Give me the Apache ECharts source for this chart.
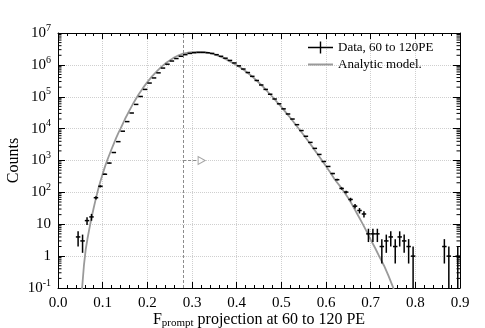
<!DOCTYPE html>
<html>
<head>
<meta charset="utf-8">
<script src="https://cdn.jsdelivr.net/npm/echarts@6/dist/echarts.min.js"></script>
<style>
html, body { margin: 0; padding: 0; background: #fff; }
#chart { width: 485px; height: 328px; }
</style>
</head>
<body>
<div id="chart"></div>
<script>
// data histogram, bin centres and counts (60 to 120 PE)
var binCenters = [0.045, 0.055, 0.065, 0.075, 0.085, 0.095, 0.105, 0.115, 0.125, 0.135,
    0.145, 0.155, 0.165, 0.175, 0.185, 0.195, 0.205, 0.215, 0.225, 0.235,
    0.245, 0.255, 0.265, 0.275, 0.285, 0.295, 0.305, 0.315, 0.325, 0.335,
    0.345, 0.355, 0.365, 0.375, 0.385, 0.395, 0.405, 0.415, 0.425, 0.435,
    0.445, 0.455, 0.465, 0.475, 0.485, 0.495, 0.505, 0.515, 0.525, 0.535,
    0.545, 0.555, 0.565, 0.575, 0.585, 0.595, 0.605, 0.615, 0.625, 0.635,
    0.645, 0.655, 0.665, 0.675, 0.685, 0.695, 0.705, 0.715, 0.725, 0.735,
    0.745, 0.755, 0.765, 0.775, 0.785, 0.795, 0.865, 0.875, 0.895];
var counts = [4, 3, 13, 17, 68, 155, 370, 830, 1780, 3900,
    8300, 16600, 30900, 57500, 102000, 170000, 269000, 389000, 562000, 794000,
    1050000, 1320000, 1580000, 1860000, 2090000, 2290000, 2400000, 2450000, 2450000, 2400000,
    2290000, 2090000, 1860000, 1620000, 1380000, 1150000, 933000, 741000, 575000, 437000,
    324000, 234000, 170000, 120000, 85000, 60000, 41700, 28800, 20000, 13300,
    8700, 5750, 3700, 2400, 1550, 930, 650, 390, 250, 133,
    102, 60, 37, 27, 21, 5, 5, 5, 2, 3,
    4, 2, 4, 3, 2, 1, 2, 1, 1];

// analytic model curve
var modelX = [0.053, 0.054, 0.058, 0.062, 0.066, 0.070, 0.075, 0.080, 0.085, 0.090,
    0.095, 0.100, 0.105, 0.110, 0.115, 0.120, 0.125, 0.130, 0.135, 0.140,
    0.150, 0.160, 0.170, 0.180, 0.190, 0.200, 0.210, 0.220, 0.230, 0.240,
    0.250, 0.260, 0.270, 0.280, 0.290, 0.300, 0.310, 0.320, 0.330, 0.340,
    0.350, 0.360, 0.370, 0.380, 0.390, 0.400, 0.410, 0.420, 0.430, 0.440,
    0.450, 0.460, 0.470, 0.480, 0.490, 0.500, 0.510, 0.520, 0.530, 0.540,
    0.550, 0.560, 0.570, 0.580, 0.590, 0.600, 0.610, 0.620, 0.630, 0.640,
    0.650, 0.660, 0.670, 0.680, 0.690, 0.700, 0.710, 0.720, 0.730, 0.740,
    0.750, 0.753];
var modelY = [0.08, 0.1, 0.5, 1.6, 3.5, 7, 16, 33, 66, 126,
    224, 380, 630, 1000, 1510, 2290, 3390, 5010, 7240, 10000,
    20000, 37200, 67600, 115000, 186000, 288000, 427000, 603000, 832000, 1100000,
    1380000, 1700000, 2000000, 2240000, 2400000, 2510000, 2570000, 2570000, 2510000, 2340000,
    2140000, 1900000, 1660000, 1410000, 1170000, 977000, 794000, 631000, 490000, 372000,
    275000, 200000, 141000, 100000, 69000, 48000, 32400, 21900, 14500, 9550,
    6310, 4070, 2630, 1660, 1050, 660, 410, 250, 166, 107,
    66, 38, 21, 11.7, 6.3, 3.3, 1.8, 0.93, 0.5, 0.24,
    0.107, 0.08];

// cut marker
var cutX = 0.28;
var arrowY = 1000;
var arrowEndX = 0.313;
var arrowTipX = 0.3215;

var serif = '"Liberation Serif", "DejaVu Serif", serif';

var dataPairs = [];
for (var i = 0; i < binCenters.length; i++) dataPairs.push([binCenters[i], counts[i]]);
var modelPairs = [];
for (var j = 0; j < modelX.length; j++) modelPairs.push([modelX[j], modelY[j]]);

// minor log ticks (2..9 in every decade)
var minorTicks = [];
for (var e = -1; e < 7; e++) {
    for (var k = 2; k < 10; k++) minorTicks.push([0, k * Math.pow(10, e)]);
}

var chart = echarts.init(document.getElementById('chart'));

var xTickCommon = {
    axisLine: { show: true, onZero: false, lineStyle: { color: '#000', width: 1 } },
    axisTick: { show: true, inside: true, length: 6, lineStyle: { color: '#000' } },
    minorTick: { show: true, splitNumber: 5, length: 3, lineStyle: { color: '#000' } }
};

var option = {
    animation: false,
    backgroundColor: '#fff',
    grid: { left: 58, right: 25, top: 33, bottom: 40, containLabel: false, outerBoundsMode: 'none' },
    legend: {
        orient: 'vertical',
        left: 308,
        top: 41,
        itemWidth: 25,
        itemHeight: 12,
        itemGap: 4,
        padding: 0,
        textStyle: { fontFamily: serif, fontSize: 13, color: '#000' },
        data: [
            { name: 'Data, 60 to 120PE', icon: 'path://M0,5.3h25v1.4h-25z M11.8,0h1.4v12h-1.4z', itemStyle: { color: '#000' } },
            { name: 'Analytic model.', icon: 'path://M0,5h25v2h-25z', itemStyle: { color: '#9a9a9a' } }
        ]
    },
    xAxis: [
        Object.assign({
            type: 'value', min: 0, max: 0.9, interval: 0.1, position: 'bottom',
            name: '{a|F}{b|prompt}{a| projection at 60 to 120 PE}',
            nameLocation: 'middle',
            nameGap: 22,
            nameMoveOverlap: false,
            nameTextStyle: {
                rich: {
                    a: { fontFamily: serif, fontSize: 16, color: '#000' },
                    b: { fontFamily: serif, fontSize: 11, color: '#000', padding: [8, 0, 0, 0] }
                }
            },
            axisLabel: {
                fontFamily: serif, fontSize: 15, color: '#000', margin: 8,
                formatter: function (v) { return v.toFixed(1); }
            },
            splitLine: { show: true, lineStyle: { color: '#cfcfcf', type: 'dotted' } }
        }, xTickCommon),
        Object.assign({
            type: 'value', min: 0, max: 0.9, interval: 0.1, position: 'top',
            axisLabel: { show: false },
            splitLine: { show: false }
        }, xTickCommon)
    ],
    yAxis: [
        {
            type: 'log', logBase: 10, min: 0.1, max: 1e7, splitNumber: 8, position: 'left',
            name: 'Counts',
            nameLocation: 'middle',
            nameGap: 36,
            nameMoveOverlap: false,
            nameTextStyle: { fontFamily: serif, fontSize: 16, color: '#000' },
            axisLine: { show: true, onZero: false, lineStyle: { color: '#000', width: 1 } },
            axisTick: { show: true, inside: true, length: 7, lineStyle: { color: '#000' } },
            axisLabel: {
                color: '#000', margin: 7,
                formatter: function (v) {
                    var p = Math.round(Math.log10(v));
                    if (p === 0) return '{b|1}';
                    if (p === 1) return '{b|10}';
                    return '{b|10}{s|' + p + '}';
                },
                rich: {
                    b: { fontFamily: serif, fontSize: 15, color: '#000' },
                    s: { fontFamily: serif, fontSize: 10, color: '#000', padding: [0, 0, 10, 0] }
                }
            },
            splitLine: { show: true, lineStyle: { color: '#cfcfcf', type: 'dotted' } }
        },
        {
            type: 'log', logBase: 10, min: 0.1, max: 1e7, splitNumber: 8, position: 'right',
            axisLine: { show: true, onZero: false, lineStyle: { color: '#000', width: 1 } },
            axisTick: { show: true, inside: true, length: 7, lineStyle: { color: '#000' } },
            axisLabel: { show: false },
            splitLine: { show: false }
        }
    ],
    series: [
        {
            // minor log ticks on left and right frame
            type: 'custom',
            silent: true,
            xAxisIndex: 0, yAxisIndex: 0,
            data: minorTicks,
            renderItem: function (params, api) {
                var v = api.value(1);
                var pl = api.coord([0, v]);
                var pr = api.coord([0.9, v]);
                return {
                    type: 'group',
                    children: [
                        { type: 'line', shape: { x1: pl[0], y1: pl[1], x2: pl[0] + 3.5, y2: pl[1] }, style: { stroke: '#000', lineWidth: 1 } },
                        { type: 'line', shape: { x1: pr[0], y1: pr[1], x2: pr[0] - 3.5, y2: pr[1] }, style: { stroke: '#000', lineWidth: 1 } }
                    ]
                };
            }
        },
        {
            name: 'Analytic model.',
            type: 'line',
            data: modelPairs,
            showSymbol: false,
            symbol: 'none',
            clip: true,
            z: 3,
            lineStyle: { color: '#9a9a9a', width: 1.8 },
            itemStyle: { color: '#9a9a9a' },
            markLine: {
                silent: true,
                symbol: ['none', 'none'],
                label: { show: false },
                lineStyle: { color: '#8c8c8c', type: [3, 2], width: 1 },
                data: [
                    { xAxis: cutX },
                    [{ coord: [cutX, arrowY] }, { coord: [arrowEndX, arrowY] }]
                ]
            }
        },
        {
            type: 'scatter',
            silent: true,
            data: [[arrowTipX, arrowY]],
            symbol: 'triangle',
            symbolSize: [8, 7],
            symbolRotate: -90,
            z: 4,
            itemStyle: { color: '#fff', borderColor: '#8c8c8c', borderWidth: 1 }
        },
        {
            name: 'Data, 60 to 120PE',
            type: 'custom',
            data: dataPairs,
            z: 5,
            itemStyle: { color: '#000' },
            renderItem: function (params, api) {
                var x = api.value(0);
                var n = api.value(1);
                var err = Math.sqrt(n);
                var lo = Math.max(n - err, 0.1);
                var hi = n + err;
                var l = api.coord([x - 0.005, n]);
                var r = api.coord([x + 0.005, n]);
                var t = api.coord([x, hi]);
                var b = api.coord([x, lo]);
                var st = { stroke: '#000', lineWidth: 1.5 };
                return {
                    type: 'group',
                    children: [
                        { type: 'line', shape: { x1: l[0], y1: l[1], x2: r[0], y2: r[1] }, style: st },
                        { type: 'line', shape: { x1: t[0], y1: t[1], x2: b[0], y2: b[1] }, style: st }
                    ]
                };
            }
        }
    ]
};

chart.setOption(option);
</script>
</body>
</html>
